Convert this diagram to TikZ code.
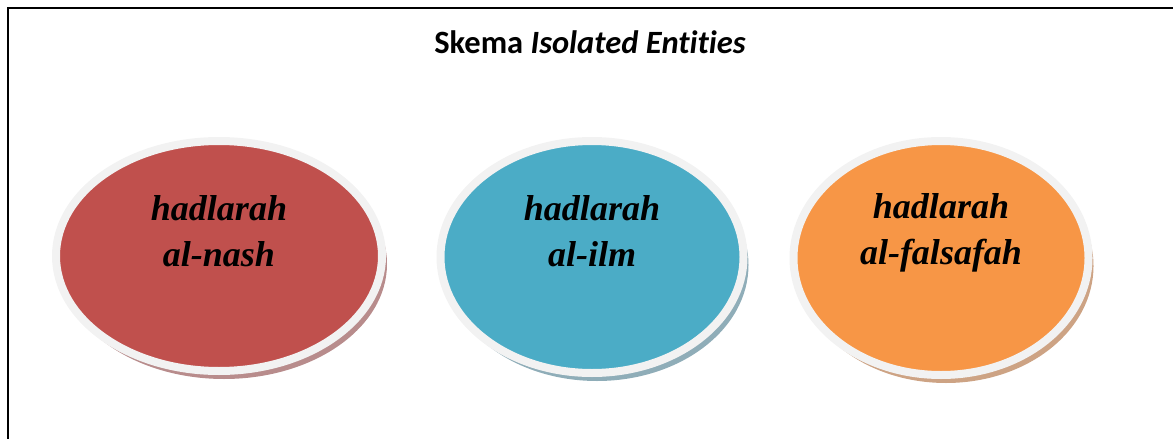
\documentclass[tikz,border=0pt]{standalone}
\usepackage{fontspec}
\setmainfont{Liberation Serif}
\newfontfamily\skemafont[Ligatures=NoCommon]{Carlito}
\usepackage{xcolor}
\usetikzlibrary{positioning,shapes.geometric,shadows}

\definecolor{nashred}{HTML}{C0504D}
\definecolor{ilmblue}{HTML}{4BACC6}
\definecolor{falsorange}{HTML}{F79646}
\definecolor{ringgrey}{HTML}{F2F2F2}
\definecolor{nashshade}{HTML}{B88C8C}
\definecolor{ilmshade}{HTML}{8FADB8}
\definecolor{falsshade}{HTML}{CDA384}

\begin{document}
\begin{tikzpicture}[x=1pt,y=-1pt,
    blob/.style={ellipse,draw=ringgrey,line width=8pt,inner sep=0pt},
    blobtext/.style={align=center,font=\fontsize{36}{46}\selectfont\bfseries\itshape}]
    \useasboundingbox (0,0) rectangle (1173,439);
    \draw[line width=2pt] (8,439) -- (8,8) -- (1173,8);
    \node[anchor=base,font=\skemafont\fontsize{32.5}{38}\selectfont\bfseries] (title) at (590,53) {Skema \textit{Isolated Entities}};
    % three entities
    \node[blob,fill=nashred,minimum width=326pt,minimum height=230pt,
      drop shadow={shadow xshift=5pt,shadow yshift=-8pt,fill=nashshade,opacity=1}] (nash) at (219,256) {};
    \node[blob,fill=ilmblue,minimum width=303pt,minimum height=232pt,
      drop shadow={shadow xshift=5pt,shadow yshift=-8pt,fill=ilmshade,opacity=1}] (ilm) at (592,257) {};
    \node[blob,fill=falsorange,minimum width=295pt,minimum height=234pt,
      drop shadow={shadow xshift=5pt,shadow yshift=-8pt,fill=falsshade,opacity=1}] (falsafah) at (941,258) {};
    \node[blobtext] (nashlbl) at ([yshift=25pt]nash.center) {hadlarah\\al-nash};
    \node[blobtext] (ilmlbl) at ([yshift=26pt]ilm.center) {hadlarah\\al-ilm};
    \node[blobtext] (falsafahlbl) at ([yshift=25pt]falsafah.center) {hadlarah\\al-falsafah};
\end{tikzpicture}
\end{document}
